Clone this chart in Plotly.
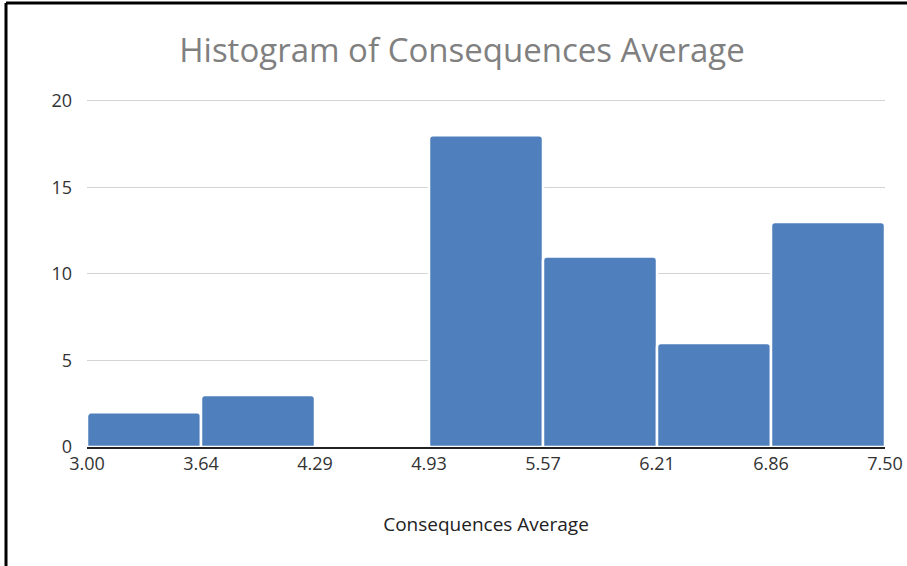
import plotly.graph_objects as go

# Histogram bins (edges) and counts per bin
bin_edges = [3.00, 3.642857, 4.285714, 4.928571, 5.571429, 6.214286, 6.857143, 7.50]
counts = [2, 3, 0, 18, 11, 6, 13]
tick_labels = ["3.00", "3.64", "4.29", "4.93", "5.57", "6.21", "6.86", "7.50"]
y_ticks = [0, 5, 10, 15, 20]

centers = [(a + b) / 2 for a, b in zip(bin_edges[:-1], bin_edges[1:])]
widths = [b - a for a, b in zip(bin_edges[:-1], bin_edges[1:])]

fig = go.Figure(
    go.Bar(
        x=centers,
        y=counts,
        width=widths,
        marker=dict(color="#4f7fbc", line=dict(color="white", width=2.5)),
        hoverinfo="x+y",
    )
)

# small headroom above 20 so the top gridline is drawn
y_top = 20.1

fig.update_layout(
    width=907,
    height=566,
    margin=dict(l=87, r=22, t=99, b=119, autoexpand=False),
    paper_bgcolor="white",
    plot_bgcolor="white",
    showlegend=False,
    barcornerradius=4,
    font=dict(family="Open Sans", color="#404040", size=18),
    title=dict(
        text="Histogram of Consequences Average",
        x=462 / 907,
        xanchor="center",
        y=1 - 50 / 566,
        yanchor="middle",
        font=dict(family="Open Sans", size=33, color="#808080"),
    ),
    xaxis=dict(
        range=[bin_edges[0], bin_edges[-1]],
        tickmode="array",
        tickvals=bin_edges,
        ticktext=tick_labels,
        showgrid=False,
        zeroline=False,
        showline=True,
        linecolor="#222222",
        linewidth=1.5,
        ticks="",
        automargin=False,
        tickfont=dict(size=18, color="#333333"),
        title=dict(text="Consequences Average", standoff=43,
                   font=dict(size=19, color="#222222")),
    ),
    yaxis=dict(
        range=[0, y_top],
        tickmode="array",
        tickvals=y_ticks,
        showgrid=True,
        gridcolor="#d4d4d4",
        gridwidth=1,
        zeroline=False,
        ticks="",
        automargin=False,
        ticklabelstandoff=14,
        tickfont=dict(size=18, color="#333333"),
    ),
)

# Frame lines along the top and left edges of the page
plot_h = 566 - 99 - 119
fig.add_shape(type="line", xref="paper", yref="paper",
              x0=(6 - 87) / 798, x1=(907 - 87) / 798,
              y0=(447 - 3) / plot_h, y1=(447 - 3) / plot_h,
              line=dict(color="black", width=3))
fig.add_shape(type="line", xref="paper", yref="paper",
              x0=(6 - 87) / 798, x1=(6 - 87) / 798,
              y0=(447 - 3) / plot_h, y1=(447 - 566) / plot_h,
              line=dict(color="black", width=3))

fig.write_html("out.html")
